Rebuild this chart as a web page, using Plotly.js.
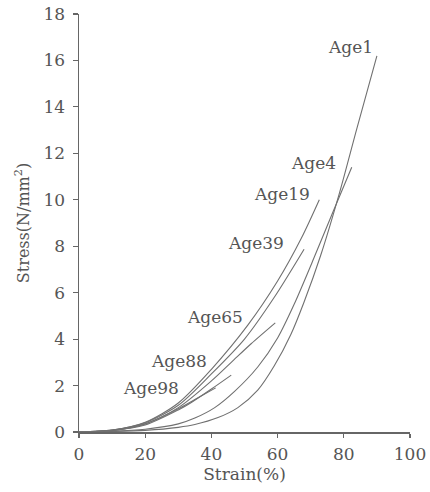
<!DOCTYPE html>
<html>
<head>
<meta charset="utf-8">
<script src="https://cdn.plot.ly/plotly-3.0.1.min.js"></script>
<style>html,body{margin:0;padding:0;background:#fff;}#chart{width:430px;height:492px;}</style>
</head>
<body>
<div id="chart"></div>
<script>
// Stress-strain curves per age (Strain %, Stress N/mm2)
const age1X = [0, 10, 20, 30, 35, 42, 48, 54, 59, 64, 68, 73, 78.7, 84, 90];
const age1Y = [0, 0.02, 0.07, 0.2, 0.32, 0.62, 1.05, 1.8, 2.85, 4.2, 5.6, 7.6, 10.3, 13.1, 16.2];

const age4X = [0, 10, 20, 30, 35, 41, 47, 54, 60, 65, 71, 76.5, 82.4];
const age4Y = [0, 0.03, 0.12, 0.35, 0.6, 1.05, 1.75, 2.8, 4.05, 5.5, 7.5, 9.4, 11.4];

const age19X = [0, 10, 20, 30, 40, 51, 60, 67.2, 72.6];
const age19Y = [0, 0.08, 0.42, 1.25, 2.7, 4.6, 6.5, 8.35, 10.0];

const age39X = [0, 10, 20, 30, 40, 50, 59, 68];
const age39Y = [0, 0.08, 0.4, 1.15, 2.5, 4.0, 5.8, 7.87];

const age65X = [0, 10, 20, 30, 40, 46, 52, 59.3];
const age65Y = [0, 0.07, 0.35, 1.05, 2.2, 3.0, 3.8, 4.7];

const age88X = [0, 10, 20, 30, 33.7, 40, 46];
const age88Y = [0, 0.06, 0.3, 0.95, 1.25, 1.85, 2.45];

const age98X = [0, 10, 20, 30, 35, 41.3];
const age98Y = [0, 0.07, 0.35, 1.0, 1.4, 1.9];

const seriesNames = ["Age1", "Age4", "Age19", "Age39", "Age65", "Age88", "Age98"];
const seriesX = [age1X, age4X, age19X, age39X, age65X, age88X, age98X];
const seriesY = [age1Y, age4Y, age19Y, age39Y, age65Y, age88Y, age98Y];

// label anchor points (data coords)
const labelX = [82.0, 70.8, 61.4, 53.5, 41.0, 30.1, 21.6];
const labelY = [16.6, 11.6, 10.26, 8.13, 4.96, 3.04, 1.91];

const xTicks = [0, 20, 40, 60, 80, 100];
const yTicks = [0, 2, 4, 6, 8, 10, 12, 14, 16, 18];

const FONT = "DejaVu Serif, Liberation Serif, serif";
const INK = "#555";

const traces = seriesNames.map((n, i) => ({
  type: "scatter", mode: "lines", name: n,
  x: seriesX[i], y: seriesY[i],
  line: {color: "#707070", width: 1.1, shape: "spline", smoothing: 0.8},
  hoverinfo: "skip"
}));

const annotations = seriesNames.map((n, i) => ({
  x: labelX[i], y: labelY[i], xref: "x", yref: "y",
  text: n, showarrow: false,
  font: {family: FONT, size: 17, color: INK},
  xanchor: "center", yanchor: "middle"
}));

const layout = {
  width: 430, height: 492,
  margin: {l: 79, r: 20, t: 14, b: 60, pad: 0},
  paper_bgcolor: "#fff", plot_bgcolor: "#fff",
  showlegend: false,
  font: {family: FONT, size: 17, color: INK},
  xaxis: {
    range: [0, 100], tickvals: xTicks, ticktext: xTicks.map(String),
    showgrid: false, zeroline: false,
    showline: true, linecolor: "#666", linewidth: 1.5,
    ticks: "outside", ticklen: 4, tickwidth: 1.2, tickcolor: "#666",
    tickfont: {family: FONT, size: 17, color: INK},
    ticklabelstandoff: 2,
    title: {text: "Strain(%)", font: {family: FONT, size: 17, color: INK}, standoff: 3}
  },
  yaxis: {
    range: [0, 18], tickvals: yTicks, ticktext: yTicks.map(String),
    showgrid: false, zeroline: false,
    showline: true, linecolor: "#666", linewidth: 1.5,
    ticks: "outside", ticklen: 5, tickwidth: 1.2, tickcolor: "#666",
    tickfont: {family: FONT, size: 17, color: INK},
    ticklabelstandoff: 4,
    title: {text: "Stress(N/mm<sup>2</sup>)", font: {family: FONT, size: 16, color: INK}, standoff: 10}
  },
  annotations: annotations
};

Plotly.newPlot("chart", traces, layout, {staticPlot: true, displayModeBar: false});
</script>
</body>
</html>
